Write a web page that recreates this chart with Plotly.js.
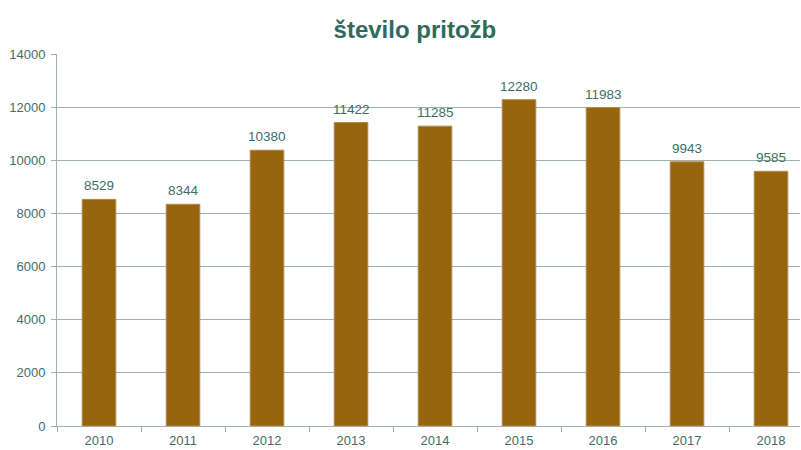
<!DOCTYPE html>
<html><head><meta charset="utf-8">
<script src="https://cdn.plot.ly/plotly-3.0.1.min.js"></script>
<style>html,body{margin:0;padding:0;background:#fff}#chart{width:801px;height:450px}</style>
</head><body><div id="chart"></div>
<script>
const years = ['2010','2011','2012','2013','2014','2015','2016','2017','2018'];
const complaints = [8529, 8344, 10380, 11422, 11285, 12280, 11983, 9943, 9585];
const yTicks = [0, 2000, 4000, 6000, 8000, 10000, 12000, 14000];

const textColor = '#3f6e64';
const gridColor = '#9fb3ab';
const font = 'Liberation Sans, Arial, sans-serif';

const labels = years.map((yr, i) => ({
  x: i, y: complaints[i], xref: 'x', yref: 'y',
  text: String(complaints[i]), showarrow: false,
  xanchor: 'center', yanchor: 'bottom', yshift: 4,
  font: {family: font, size: 13.5, color: textColor}
}));

Plotly.newPlot('chart', [{
  type: 'bar',
  x: years,
  y: complaints,
  width: 0.4,
  marker: {color: '#98650f', line: {color: '#b58a4a', width: 1}},
  hoverinfo: 'x+y'
}], {
  width: 801, height: 450,
  margin: {l: 57, r: 1, t: 54, b: 24, pad: 0},
  paper_bgcolor: '#fff', plot_bgcolor: '#fff',
  title: {text: '<b>število pritožb</b>', x: 0.518, xanchor: 'center', y: 0.935, yanchor: 'middle',
    font: {family: font, size: 24, color: '#2f6a5c'}},
  showlegend: false,
  annotations: labels,
  xaxis: {
    type: 'category',
    range: [-0.5, 8.345],
    tickson: 'boundaries',
    ticks: 'outside', ticklen: 5, tickcolor: gridColor,
    ticklabelstandoff: 2,
    showline: true, linecolor: gridColor, linewidth: 1,
    showgrid: false,
    tickfont: {family: font, size: 13, color: textColor}
  },
  yaxis: {
    range: [0, 14000],
    tickvals: yTicks,
    ticktext: yTicks.map(String),
    ticks: 'outside', ticklen: 5, tickcolor: gridColor,
    ticklabelstandoff: 3,
    showline: true, linecolor: gridColor, linewidth: 1,
    showgrid: true, gridcolor: gridColor, gridwidth: 1,
    zeroline: false,
    tickfont: {family: font, size: 13, color: textColor}
  }
}, {displayModeBar: false, staticPlot: true});
</script></body></html>
